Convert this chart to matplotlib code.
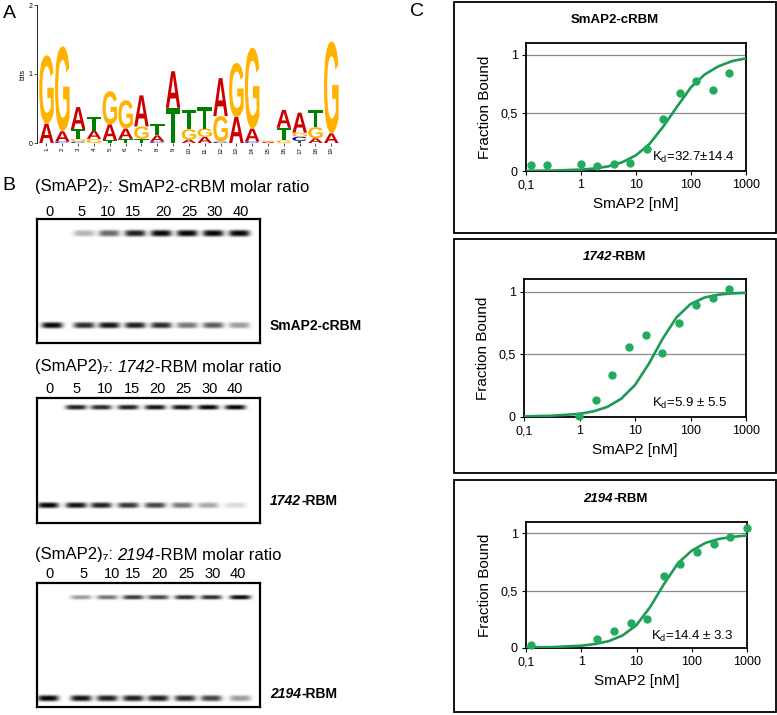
import numpy as np
import matplotlib
matplotlib.use("Agg")
import matplotlib.pyplot as plt
from matplotlib.font_manager import FontProperties
from matplotlib.textpath import TextPath
from matplotlib.patches import PathPatch, Rectangle
from matplotlib.transforms import Affine2D

plt.rcParams['font.family'] = ['Liberation Sans', 'DejaVu Sans']
plt.rcParams['mathtext.fontset'] = 'custom'
plt.rcParams['mathtext.rm'] = 'Liberation Sans'
plt.rcParams['mathtext.it'] = 'Liberation Sans:italic'
plt.rcParams['mathtext.bf'] = 'Liberation Sans:bold'

# ---------------- data ----------------
# A: sequence logo, information content (bits) per base and position
logo_positions = list(range(1, 20))
logo_A = [0.28, 0.15, 0.32, 0.12, 0.23, 0.15, 0.45, 0.09, 0.53, 0.05,
          0.09, 0.55, 0.38, 0.19, 0.02, 0.26, 0.29, 0.07, 0.14]
logo_C = [0.00, 0.02, 0.02, 0.00, 0.00, 0.00, 0.00, 0.02, 0.00, 0.00,
          0.00, 0.02, 0.00, 0.02, 0.00, 0.00, 0.06, 0.00, 0.00]
logo_G = [0.99, 1.23, 0.04, 0.06, 0.48, 0.41, 0.18, 0.00, 0.00, 0.15,
          0.12, 0.37, 0.78, 1.17, 0.02, 0.04, 0.06, 0.16, 1.33]
logo_T = [0.00, 0.00, 0.14, 0.20, 0.04, 0.06, 0.06, 0.17, 0.51, 0.28,
          0.31, 0.00, 0.00, 0.00, 0.00, 0.18, 0.03, 0.25, 0.00]

# B: EMSA, molar ratios and band darkness (0 = no band, 1 = black)
gel_ratios = ['0', '5', '10', '15', '20', '25', '30', '40']
crbm_complex = [0.0, 0.3, 0.6, 0.9, 1.0, 1.0, 1.0, 1.0]
crbm_free = [1.0, 0.85, 0.95, 0.9, 0.85, 0.55, 0.65, 0.4]
rbm1742_complex = [0.0, 0.9, 0.85, 0.9, 0.95, 0.95, 1.0, 1.0]
rbm1742_free = [1.0, 0.95, 0.9, 0.8, 0.75, 0.55, 0.35, 0.15]
rbm2194_complex = [0.0, 0.4, 0.55, 0.8, 0.75, 0.85, 0.85, 1.0]
rbm2194_free = [1.0, 0.95, 0.9, 0.9, 0.9, 0.85, 0.75, 0.4]

# C: binding curves, SmAP2 [nM] vs fraction bound
conc_crbm = [0.122, 0.244, 0.98, 1.95, 3.9, 7.8, 15.6, 31.25, 62.5, 125, 250, 500]
frac_crbm = [0.052, 0.052, 0.06, 0.043, 0.064, 0.07, 0.185, 0.446, 0.672, 0.777, 0.693, 0.838]
conc_1742 = [0.98, 1.95, 3.9, 7.8, 15.6, 31.25, 62.5, 125, 250, 500]
frac_1742 = [0.005, 0.133, 0.333, 0.557, 0.653, 0.512, 0.752, 0.893, 0.952, 1.019]
conc_2194 = [0.122, 1.95, 3.9, 7.8, 15.6, 31.25, 62.5, 125, 250, 500, 1000]
frac_2194 = [0.03, 0.08, 0.146, 0.22, 0.257, 0.626, 0.737, 0.842, 0.909, 0.965, 1.044]

fit_conc = [0.1, 0.316, 1, 1.78, 3.16, 5.62, 10, 17.8, 31.6, 56.2, 100, 178, 316, 562, 1000]
fit_crbm = [0.002, 0.004, 0.012, 0.022, 0.04, 0.075, 0.135, 0.235, 0.385, 0.555, 0.72, 0.83, 0.9, 0.945, 0.968]
fit_1742 = [0.005, 0.01, 0.025, 0.045, 0.08, 0.145, 0.255, 0.425, 0.625, 0.795, 0.9, 0.952, 0.975, 0.985, 0.99]
fit_2194 = [0.005, 0.008, 0.02, 0.035, 0.06, 0.11, 0.2, 0.36, 0.56, 0.74, 0.85, 0.918, 0.953, 0.971, 0.982]

kd_crbm = r"K$_\mathrm{d}$=32.7±14.4"
kd_1742 = r"K$_\mathrm{d}$=5.9 ± 5.5"
kd_2194 = r"K$_\mathrm{d}$=14.4 ± 3.3"

# ---------------- layout helpers (pixel coords, origin top-left) ----------------
W, H = 777, 715
fig = plt.figure(figsize=(W / 100, H / 100), dpi=100)


def px_axes(x0, y0, x1, y1):
    return fig.add_axes([x0 / W, 1 - y1 / H, (x1 - x0) / W, (y1 - y0) / H])


#############################################################################
################################ A: logo ####################################
#############################################################################
logo_colors = {'A': '#cc0000', 'C': '#0000cc', 'G': '#ffb300', 'T': '#008000'}
logo_font = FontProperties(family='Liberation Sans', weight='bold')


def draw_letter(ax, base, x, y0, h, width=0.92):
    tp = TextPath((0, 0), base, size=1, prop=logo_font)
    ext = tp.get_extents()
    tr = (Affine2D().translate(-ext.x0, -ext.y0)
          .scale(width / ext.width, h / ext.height)
          .translate(x - width / 2, y0))
    ax.add_patch(PathPatch(tr.transform_path(tp), facecolor=logo_colors[base],
                           edgecolor='none'))


ax = px_axes(37, 5, 340, 143)
for i, pos in enumerate(logo_positions):
    stack = sorted([('A', logo_A[i]), ('C', logo_C[i]), ('G', logo_G[i]), ('T', logo_T[i])],
                   key=lambda t: t[1])
    bottom = 0
    for base, h in stack:
        if h <= 0:
            continue
        draw_letter(ax, base, pos, bottom, h)
        bottom += h
ax.set_xlim(0.4, 19.55)
ax.set_ylim(0, 2)
for s in ['top', 'right', 'bottom']:
    ax.spines[s].set_visible(False)
ax.spines['left'].set_linewidth(0.6)
ax.set_yticks([0, 1, 2])
ax.set_yticklabels(['0', '1', '2'], fontsize=5)
ax.set_xticks(logo_positions)
ax.set_xticklabels([str(p) for p in logo_positions], fontsize=4.5, rotation=90)
ax.tick_params(axis='both', length=2, width=0.5, pad=1)
ax.set_ylabel('bits', fontsize=5, labelpad=2)

#############################################################################
################################ B: gels ####################################
#############################################################################


def draw_gel(x0, y0, x1, y1, lanes, top_y, bot_y, upper, lower, top_h, bot_h):
    w, h = x1 - x0, y1 - y0
    ax = px_axes(x0, y0, x1, y1)
    yy, xx = np.mgrid[0:h * 2, 0:w * 2] / 2.0
    img = np.zeros_like(xx)
    for cx, a in zip(lanes, upper):
        img += a * np.exp(-np.abs((xx - cx) / 10.5) ** 4) * np.exp(-np.abs((yy - top_y) / top_h) ** 3)
    for cx, a in zip(lanes, lower):
        img += a * np.exp(-np.abs((xx - cx) / 10.5) ** 4) * np.exp(-np.abs((yy - bot_y) / bot_h) ** 3)
    img = np.clip(img, 0, 1)
    ax.imshow(img, cmap='gray_r', vmin=0, vmax=1.02, extent=(0, w, h, 0),
              interpolation='bilinear', aspect='auto')
    ax.set_xticks([])
    ax.set_yticks([])
    for s in ax.spines.values():
        s.set_linewidth(1.6)
    return ax


lanes1 = [52, 84, 109, 135, 161, 187, 213, 239]
draw_gel(37, 219, 260, 343, [l - 37 for l in lanes1], 14, 106, crbm_complex, crbm_free, 3.2, 3.0)
lanes2 = [48, 76, 101, 128, 155, 182, 208, 235]
draw_gel(37, 398, 260, 523, [l - 37 for l in lanes2], 9, 107, rbm1742_complex, rbm1742_free, 2.4, 2.8)
lanes3 = [48, 81, 107, 133, 158, 185, 211, 240]
draw_gel(37, 583, 260, 707, [l - 37 for l in lanes3], 14, 115, rbm2194_complex, rbm2194_free, 2.2, 3.0)

#############################################################################
############################ C: binding curves ##############################
#############################################################################
point_color = '#22ab5f'
line_color = '#1f9a55'


def binding_panel(rect, conc, frac, fit_y, kd_text, kd_xy):
    ax = px_axes(*rect)
    ax.plot(fit_conc, fit_y, color=line_color, lw=1.9, zorder=3, solid_joinstyle='round')
    ax.plot(conc, frac, 'o', color=point_color, ms=5, zorder=4, clip_on=False)
    ax.set_xscale('log')
    ax.set_xlim(0.1, 1000)
    ax.set_ylim(0, 1.1)
    ax.set_xticks([0.1, 1, 10, 100, 1000])
    ax.set_xticklabels(['0,1', '1', '10', '100', '1000'], fontsize=9)
    ax.minorticks_off()
    ax.set_yticks([0, 0.5, 1])
    ax.set_yticklabels(['0', '0,5', '1'], fontsize=9)
    ax.tick_params(length=3, width=0.8, pad=3)
    for yv in [0.5, 1]:
        ax.axhline(yv, color='#8c8c8c', lw=0.9, zorder=1)
    for s in ax.spines.values():
        s.set_linewidth(1.3)
    ax.set_xlabel('SmAP2 [nM]', fontsize=11, labelpad=4)
    ax.set_ylabel('Fraction Bound', fontsize=11, labelpad=6)
    ax.text(kd_xy[0], kd_xy[1], kd_text, fontsize=9.5, ha='left', va='center', zorder=5)
    return ax


binding_panel((526, 43, 746, 171), conc_crbm, frac_crbm, fit_crbm, kd_crbm, (19.3, 0.12))
binding_panel((524, 279, 746, 417), conc_1742, frac_1742, fit_1742, kd_1742, (20, 0.11))
binding_panel((526, 522, 747, 648), conc_2194, frac_2194, fit_2194, kd_2194, (18.6, 0.10))

#############################################################################
###################### overlay: texts, boxes, labels ########################
#############################################################################
ov = fig.add_axes([0, 0, 1, 1])
ov.set_xlim(0, W)
ov.set_ylim(H, 0)
ov.axis('off')
ov.patch.set_visible(False)

for lbl, (x, y) in zip(['A', 'B', 'C'], [(9, 14), (9, 185), (417, 12)]):
    ov.text(x, y, lbl, fontsize=14, ha='center', va='center')

for (y0, y1) in [(2, 233), (239, 473), (480, 712)]:
    ov.add_patch(Rectangle((454, y0), 776 - 454, y1 - y0, fill=False, lw=1.3,
                           edgecolor='black'))


def chain(pieces, x, y, fontsize, ha='left', weight='normal'):
    # pieces: list of (text, italic) drawn one after another on a shared baseline
    first, italic = pieces[0]
    t = ov.text(x, y, first, fontsize=fontsize, fontweight=weight,
                fontstyle='italic' if italic else 'normal', ha=ha, va='center')
    for txt, italic in pieces[1:]:
        gap = 0
        if txt.startswith(' '):
            gap = fontsize * 0.28
            txt = txt.lstrip()
        t = ov.annotate(txt, xy=(1, 0), xycoords=t, xytext=(gap, 0),
                        textcoords='offset points', fontsize=fontsize, fontweight=weight,
                        fontstyle='italic' if italic else 'normal', ha='left', va='bottom')
    return t


# gel titles
chain([('(SmAP2)₇:', False), (' SmAP2-cRBM molar ratio', False)], 35, 187, 12)
chain([('(SmAP2)₇:', False), (' 1742', True), ('-RBM molar ratio', False)], 35, 367, 12)
chain([('(SmAP2)₇:', False), (' 2194', True), ('-RBM molar ratio', False)], 35, 555, 12)

# lane numbers
lane_label_x = [[49, 82, 108, 133, 163, 189, 215, 241],
                [50, 77, 105, 132, 157, 183, 210, 235],
                [49, 84, 112, 133, 159, 186, 213, 238]]
for xs, y in zip(lane_label_x, [212, 389, 574]):
    for lx, r in zip(xs, gel_ratios):
        ov.text(lx, y, r, fontsize=10.5, ha='center', va='center')

# gel band labels
ov.text(270, 326, 'SmAP2-cRBM', fontsize=10, fontweight='bold', va='center')
chain([('1742', True), ('-RBM', False)], 270, 501, 10, weight='bold')
chain([('2194', True), ('-RBM', False)], 270, 694, 10, weight='bold')

# binding panel titles
ov.text(615, 20, 'SmAP2-cRBM', fontsize=9.5, fontweight='bold', ha='center', va='center')
chain([('1742', True), ('-RBM', False)], 612, 257, 9.5, ha='right', weight='bold')
chain([('2194', True), ('-RBM', False)], 613, 499, 9.5, ha='right', weight='bold')

fig.savefig('out.png', dpi=100)
